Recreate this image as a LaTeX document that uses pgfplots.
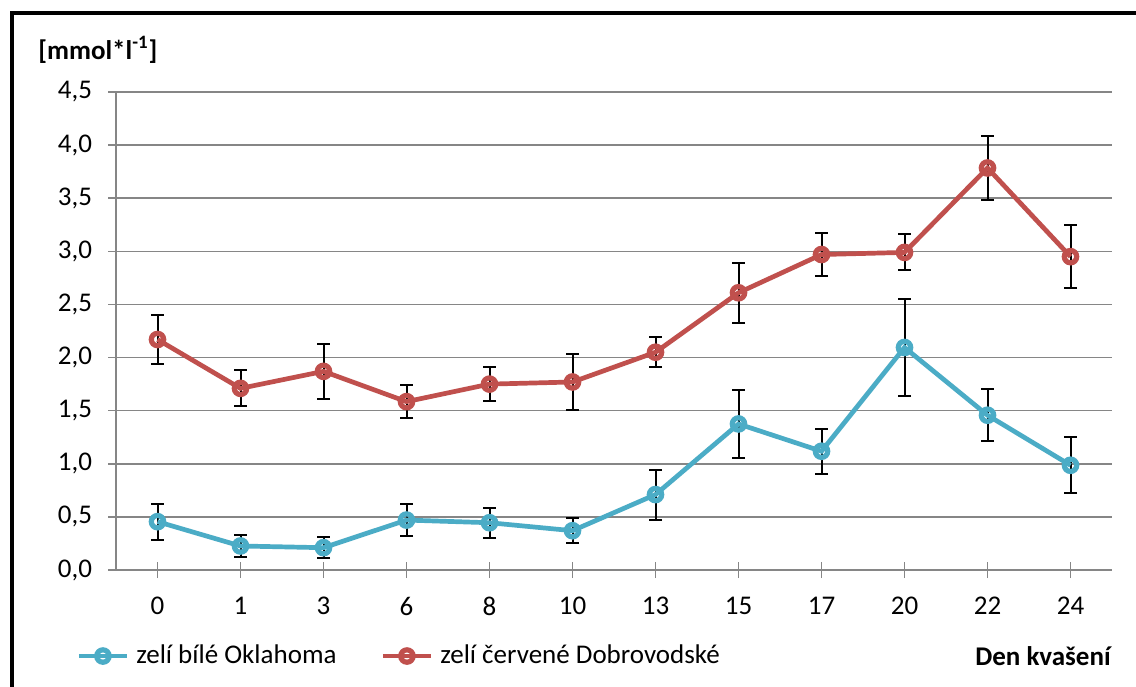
\documentclass[border=0pt]{standalone}
\usepackage{fontspec}
\setmainfont{Carlito}
\usepackage{pgfplots}
\usepackage{pgfplotstable}
\pgfplotsset{compat=1.18}
\definecolor{cblue}{HTML}{4BACC6}
\definecolor{cred}{HTML}{C0504D}
\definecolor{cgrid}{HTML}{868686}
\pgfplotstableread{
x y e
0 0.455 0.17
1 0.226 0.10
2 0.21 0.10
3 0.47 0.15
4 0.445 0.14
5 0.37 0.12
6 0.71 0.235
7 1.375 0.32
8 1.118 0.21
9 2.095 0.46
10 1.457 0.245
11 0.986 0.265
}\bluedata
\pgfplotstableread{
x y e
0 2.17 0.23
1 1.71 0.17
2 1.87 0.26
3 1.585 0.155
4 1.75 0.16
5 1.77 0.26
6 2.05 0.14
7 2.61 0.28
8 2.97 0.205
9 2.99 0.17
10 3.785 0.30
11 2.95 0.295
}\reddata
\begin{document}
\begin{tikzpicture}
\useasboundingbox (0,0) rectangle (568pt,343pt);
\fill[white] (0,0) rectangle (568pt,343pt);
\draw[line width=2pt] (6pt,-2pt) -- (6pt,336.5pt) -- (570pt,336.5pt);
\begin{axis}[
  at={(58pt,58pt)}, anchor=south west,
  scale only axis, width=498pt, height=239pt,
  xmin=-0.5, xmax=11.5, ymin=0, ymax=4.5,
  xtick={0,...,11},
  xticklabels={0,1,3,6,8,10,13,15,17,20,22,24},
  ytick={0,0.5,1,1.5,2,2.5,3,3.5,4,4.5},
  yticklabel style={xshift=-4.5pt, /pgf/number format/.cd, fixed, fixed zerofill, precision=1, use comma},
  /pgf/number format/assume math mode=true,
  tick label style={font=\fontsize{13.5}{16}\selectfont},
  xticklabel style={yshift=-6pt},
  axis x line*=bottom, axis y line*=left,
  axis line style={cgrid, line width=0.75pt},
  ymajorgrids, grid style={cgrid, line width=0.75pt},
  tick style={cgrid, line width=0.75pt},
  tick align=center, major tick length=8pt,
  clip=false,
  legend style={at={(-0.046,-0.18)}, anchor=west, draw=none, fill=none,
    font=\fontsize{13.5}{16}\selectfont, legend columns=2,
    /tikz/every odd column/.append style={column sep=1.5pt},
    /tikz/every even column/.append style={column sep=20pt}},
  legend cell align=left,
  legend image code/.code={\draw[mark repeat=2,mark phase=2,#1] plot coordinates {(0pt,0pt) (12pt,0pt) (24pt,0pt)};},
  errb/.style={draw=none, mark=none, forget plot,
    error bars/.cd, y dir=both, y explicit, error bar style={black, line width=1pt},
    error mark options={black, line width=1pt, mark size=3.25pt, rotate=90}},
]
\addplot[errb] table[x=x, y=y, y error=e] {\bluedata};
\addplot[errb] table[x=x, y=y, y error=e] {\reddata};
\addplot[cblue, line width=2.35pt, mark=o, mark size=3.1pt, mark options={fill=white, line width=2.6pt}]
  table[x=x, y=y] {\bluedata};
\addlegendentry{zelí bílé Oklahoma}
\addplot[cred, line width=2.35pt, mark=o, mark size=3.1pt, mark options={fill=white, line width=2.6pt}]
  table[x=x, y=y] {\reddata};
\addlegendentry{zelí červené Dobrovodské}
\end{axis}
\node[anchor=west, font=\fontsize{13.5}{16}\selectfont\bfseries, inner sep=0pt] at (19pt,318pt) {[mmol*l\textsuperscript{-1}]};
\node[font=\fontsize{13.5}{16}\selectfont\bfseries, inner sep=0pt] at (521.5pt,15pt) {Den kvašení};
\end{tikzpicture}
\end{document}
